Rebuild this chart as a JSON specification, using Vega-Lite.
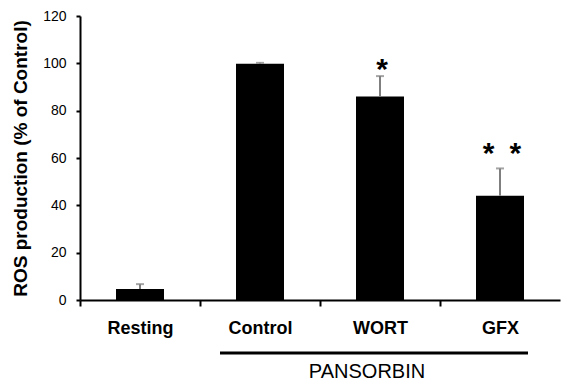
{
  "$schema": "https://vega.github.io/schema/vega-lite/v6.json",
  "width": 480,
  "height": 284,
  "autosize": "none",
  "padding": {"left": 80, "top": 16, "right": 1, "bottom": 81},
  "background": "white",
  "config": {"view": {"stroke": null}, "font": "Liberation Sans"},
  "datasets": {
    "bars": [
      {"group": "Resting", "value": 4.6, "upper": 6.7, "sig": "", "sigY": null},
      {"group": "Control", "value": 99.8, "upper": 100.2, "sig": "", "sigY": null},
      {"group": "WORT", "value": 86, "upper": 94.6, "sig": "*", "sigY": 100.5},
      {"group": "GFX", "value": 44, "upper": 55.6, "sig": "*\u2002*", "sigY": 65}
    ],
    "bracket": [
      {"label": "PANSORBIN", "start": "Control", "end": "GFX", "mid": "WORT", "lineY": -22.4, "textY": -30.4}
    ]
  },
  "encoding": {
    "x": {
      "field": "group", "type": "nominal",
      "scale": {"domain": ["Resting", "Control", "WORT", "GFX"], "paddingInner": 0.6, "paddingOuter": 0.3},
      "axis": {
        "title": null, "labelAngle": 0, "labelFontSize": 18, "labelFontWeight": "bold",
        "labelColor": "black", "labelPadding": 13, "domainColor": "black", "domainWidth": 2,
        "ticks": true, "tickColor": "black", "tickWidth": 2, "tickSize": 6, "tickOffset": -60, "labelOffset": 60
      }
    }
  },
  "layer": [
    {
      "data": {"name": "bars"},
      "mark": {"type": "bar", "color": "black"},
      "encoding": {
        "y": {
          "field": "value", "type": "quantitative",
          "scale": {"domain": [0, 120], "nice": false},
          "axis": {
            "title": "ROS production (% of Control)", "titleFontSize": 19, "titleFontWeight": "bold",
            "titleColor": "black", "titlePadding": 12, "values": [0, 20, 40, 60, 80, 100, 120],
            "labelFontSize": 14, "labelColor": "black", "labelPadding": 10, "grid": false,
            "domainColor": "black", "domainWidth": 2, "tickColor": "black", "tickWidth": 2, "tickSize": 4
          }
        }
      }
    },
    {
      "data": {"name": "bars"},
      "mark": {"type": "rule", "color": "#7f7f7f", "strokeWidth": 2},
      "encoding": {
        "y": {"field": "value", "type": "quantitative"},
        "y2": {"field": "upper"}
      }
    },
    {
      "data": {"name": "bars"},
      "mark": {"type": "tick", "color": "#7f7f7f", "thickness": 2, "size": 8},
      "encoding": {
        "y": {"field": "upper", "type": "quantitative"}
      }
    },
    {
      "data": {"name": "bars"},
      "mark": {"type": "text", "fontSize": 30, "fontWeight": "bold", "color": "black", "baseline": "alphabetic", "dy": 17, "xOffset": 2},
      "encoding": {
        "y": {"field": "sigY", "type": "quantitative"},
        "text": {"field": "sig"}
      }
    },
    {
      "data": {"name": "bracket"},
      "mark": {"type": "rule", "color": "black", "strokeWidth": 3, "xOffset": -40, "x2Offset": 28},
      "encoding": {
        "x": {"field": "start", "type": "nominal"},
        "x2": {"field": "end"},
        "y": {"field": "lineY", "type": "quantitative"}
      }
    },
    {
      "data": {"name": "bracket"},
      "mark": {"type": "text", "fontSize": 20, "color": "black", "baseline": "middle", "xOffset": -13},
      "encoding": {
        "x": {"field": "mid", "type": "nominal"},
        "y": {"field": "textY", "type": "quantitative"},
        "text": {"field": "label"}
      }
    }
  ]
}
